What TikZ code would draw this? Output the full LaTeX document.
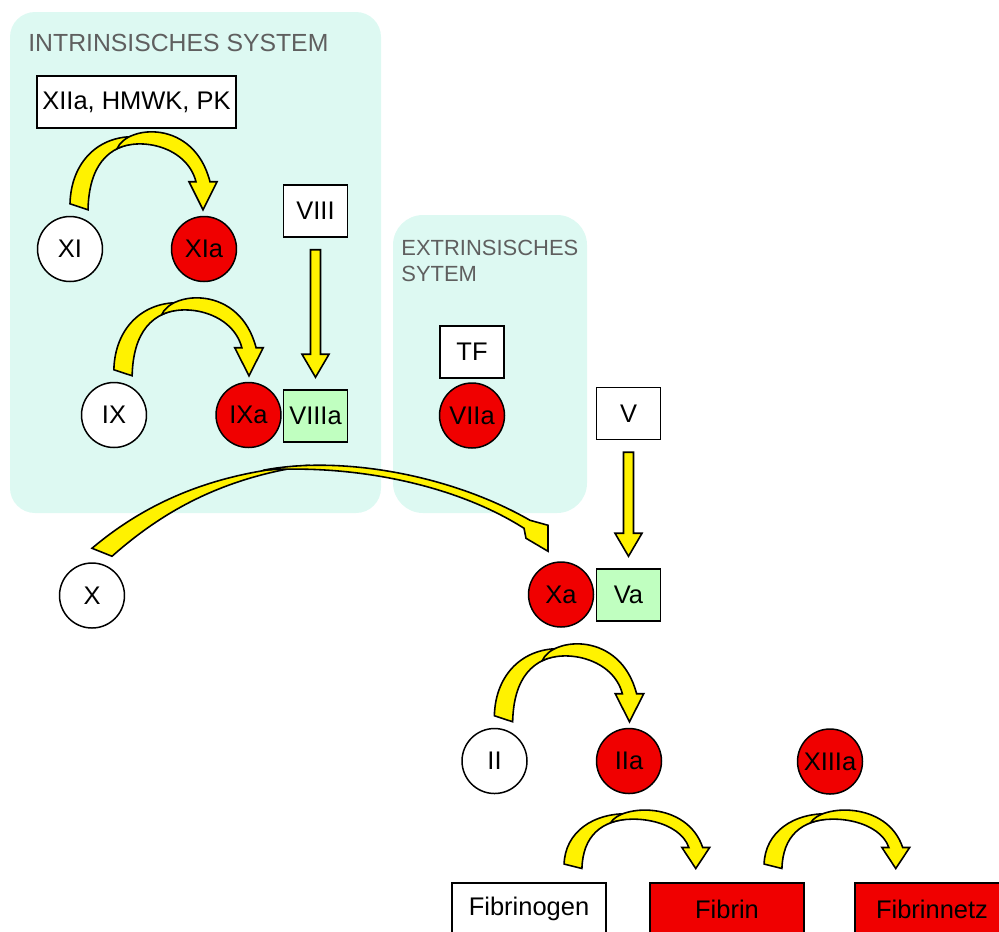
\documentclass[tikz,border=0pt]{standalone}
\usepackage{fontspec}
\setmainfont{Liberation Sans}
\usetikzlibrary{calc,positioning}

\definecolor{minze}{RGB}{221,249,242}
\definecolor{signalrot}{RGB}{240,0,0}
\definecolor{hellgruen}{RGB}{192,255,192}
\definecolor{titelgrau}{RGB}{95,95,95}

\tikzset{
  faktor/.style={circle, draw, line width=0.85pt, minimum size=1.3cm, inner sep=0pt,
    font=\fontsize{14.5}{17}\selectfont},
  aktiv/.style={faktor, fill=signalrot},
  inaktiv/.style={faktor, fill=white},
  kasten/.style={rectangle, draw, line width=0.85pt, fill=white, minimum width=1.28cm,
    minimum height=1.04cm, inner sep=0pt, font=\fontsize{14.5}{17}\selectfont},
  kofaktor/.style={kasten, fill=hellgruen},
  system/.style={fill=minze, rounded corners=0.5cm},
  titel/.style={text=titelgrau, inner sep=0pt},
  pfeil/.style={fill=yellow, draw=black, line width=0.9pt},
}

% gebogener Blockpfeil: Ende, x-Streckung, y-Streckung
\newcommand{\bogenpfeil}[3]{%
  \begin{scope}[shift={#1}, xscale=#2, yscale=#3]
    \filldraw[pfeil] (-9,-3) .. controls (-8,-45) and (20,-72) .. (58,-70) -- (62,-64)
      .. controls (28,-62) and (10,-40) .. (9,3) -- cycle;
    \filldraw[pfeil] (38,-58) .. controls (48,-82) and (115,-88) .. (131,-25) -- (138,-25)
      -- (124,3) -- (110,-25) -- (117,-25) .. controls (108,-60) and (62,-70) .. (38,-58) -- cycle;
  \end{scope}}

% gerader Pfeil nach unten
\newcommand{\senkpfeil}[2]{%
  \filldraw[pfeil] ($(#1.south)+(-5,12)$) -- ($(#2.north)+(-5,-35)$) -- ($(#2.north)+(-13.5,-35)$)
    -- ($(#2.north)+(0,-12)$) -- ($(#2.north)+(13.5,-35)$) -- ($(#2.north)+(5,-35)$)
    -- ($(#1.south)+(5,12)$) -- cycle;}

\begin{document}
\begin{tikzpicture}[x=0.02cm, y=-0.02cm]
  \useasboundingbox (0,0) rectangle (999,931);
  \clip (0,0) rectangle (999,931);

  \fill[system] (10,12) rectangle (381,513);
  \fill[system, rounded corners=0.6cm] (393,215) rectangle (587,513);
  \node[titel, anchor=west, font=\fontsize{14.1}{16}\selectfont] (intrinsisch) at (28,42.5) {INTRINSISCHES SYSTEM};
  \node[titel, anchor=north west, align=left, font=\fontsize{12.5}{14.5}\selectfont] (extrinsisch) at (401,240) {EXTRINSISCHES\\SYTEM};

  \node[kasten, minimum width=3.98cm] (XIIa) at (136.5,102) {XIIa, HMWK, PK};
  \node[inaktiv] (XI) at (70,249) {XI};
  \node[aktiv] (XIa) at (204,249) {XIa};
  \node[kasten] (VIII) at (315.5,211) {VIII};
  \node[inaktiv] (IX) at (114,415) {IX};
  \node[aktiv] (IXa) at (248.5,415) {IXa};
  \node[kofaktor] (VIIIa) at (315.5,416) {VIIIa};
  \node[kasten] (TF) at (472,352) {TF};
  \node[aktiv] (VIIa) at (472,415.5) {VIIa};
  \node[kasten] (V) at (628.5,413.5) {V};
  \node[inaktiv] (X) at (92,595.5) {X};
  \node[aktiv] (Xa) at (561,594.5) {Xa};
  \node[kofaktor] (Va) at (628.5,595) {Va};
  \node[inaktiv] (II) at (494.5,761) {II};
  \node[aktiv] (IIa) at (629,761) {IIa};
  \node[aktiv] (XIIIa) at (830,761.5) {XIIIa};
  \node[kasten, minimum width=3.08cm] (Fibrinogen) at (529,909) {Fibrinogen};
  \node[kasten, fill=signalrot, minimum width=3.08cm] (Fibrin) at (727,909) {Fibrin};
  \node[kasten, fill=signalrot, minimum width=3.08cm] (Fibrinnetz) at (932,909) {Fibrinnetz};

  \bogenpfeil{($(XI.north)+(9,-9)$)}{1}{1}
  \bogenpfeil{($(IX.north)+(9,-9)$)}{1.016}{1}
  \bogenpfeil{($(II.north)+(9,-9)$)}{1.016}{1}
  \bogenpfeil{($(Fibrinogen.north)+(44,-16)$)}{0.99}{0.75}
  \bogenpfeil{($(Fibrin.north)+(46,-16)$)}{0.99}{0.75}
  \senkpfeil{VIII}{VIIIa}
  \senkpfeil{V}{Va}

  \begin{scope}[shift={(X.north)}]
    \filldraw[pfeil] (0,-14) .. controls (58,-63) and (128,-91) .. (218,-97)
      .. controls (133,-85) and (73,-53) .. (20,-6) -- cycle;
    \filldraw[pfeil] (171,-92) .. controls (248,-107) and (358,-88) .. (438,-42) -- (456,-37)
      -- (456,-11) -- (434,-24) -- (432,-34) .. controls (358,-81) and (253,-98) .. (171,-92) -- cycle;
  \end{scope}
\end{tikzpicture}
\end{document}
